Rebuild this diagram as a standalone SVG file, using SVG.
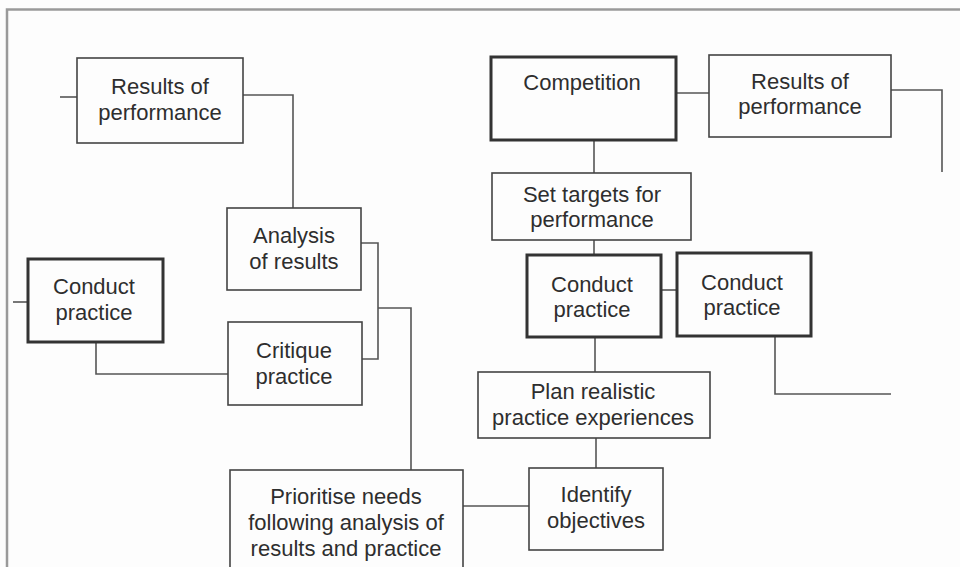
<svg xmlns="http://www.w3.org/2000/svg" width="960" height="567" viewBox="0 0 960 567">
  <style>
    .box { fill: #fdfdfd; stroke: #444; stroke-width: 1.6; }
    .bold { stroke: #333; stroke-width: 3; }
    .wire { fill: none; stroke: #555; stroke-width: 1.6; }
    text { font-family: "Liberation Sans", Arial, sans-serif; font-size: 22px; fill: #2e2e2e; text-anchor: middle; }
  </style>
  <rect x="0" y="0" width="960" height="567" fill="#fdfdfd"/>
  <!-- page frame -->
  <path d="M7 567 V9.5 H960" fill="none" stroke="#9a9a9a" stroke-width="2.5"/>

  <g id="connectors">
    <path class="wire" d="M60 97 H77"/>
    <path class="wire" d="M243 95 H293 V208"/>
    <path class="wire" d="M361 243 H378 V359 H362"/>
    <path class="wire" d="M378 308 H411 V470"/>
    <path class="wire" d="M13 302 H28"/>
    <path class="wire" d="M96 342 V374 H228"/>
    <path class="wire" d="M463 506 H529"/>
    <path class="wire" d="M676 93 H709"/>
    <path class="wire" d="M891 90 H942 V172"/>
    <path class="wire" d="M594 140 V173"/>
    <path class="wire" d="M594 240 V255"/>
    <path class="wire" d="M661 290 H677"/>
    <path class="wire" d="M775 336 V394 H891"/>
    <path class="wire" d="M595 337 V372"/>
    <path class="wire" d="M596 438 V468"/>
  </g>

  <g id="results-left">
    <rect class="box" x="77" y="58" width="166" height="85"/>
    <text x="160" y="94">Results of</text>
    <text x="160" y="120">performance</text>
  </g>
  <g id="analysis">
    <rect class="box" x="227" y="208" width="134" height="82"/>
    <text x="294" y="243">Analysis</text>
    <text x="294" y="269">of results</text>
  </g>
  <g id="conduct-left">
    <rect class="box bold" x="28" y="259" width="135" height="83"/>
    <text x="94" y="294">Conduct</text>
    <text x="94" y="320">practice</text>
  </g>
  <g id="critique">
    <rect class="box" x="228" y="322" width="134" height="83"/>
    <text x="294" y="358">Critique</text>
    <text x="294" y="384">practice</text>
  </g>
  <g id="prioritise">
    <rect class="box" x="230" y="470" width="233" height="110"/>
    <text x="346" y="504">Prioritise needs</text>
    <text x="346" y="530">following analysis of</text>
    <text x="346" y="556">results and practice</text>
  </g>
  <g id="competition">
    <rect class="box bold" x="491" y="57" width="185" height="83"/>
    <text x="582" y="90">Competition</text>
  </g>
  <g id="results-right">
    <rect class="box" x="709" y="55" width="182" height="82"/>
    <text x="800" y="89">Results of</text>
    <text x="800" y="114">performance</text>
  </g>
  <g id="set-targets">
    <rect class="box" x="492" y="173" width="199" height="67"/>
    <text x="592" y="202">Set targets for</text>
    <text x="592" y="227">performance</text>
  </g>
  <g id="conduct-middle">
    <rect class="box bold" x="527" y="255" width="134" height="82"/>
    <text x="592" y="292">Conduct</text>
    <text x="592" y="317">practice</text>
  </g>
  <g id="conduct-right">
    <rect class="box bold" x="677" y="253" width="134" height="83"/>
    <text x="742" y="290">Conduct</text>
    <text x="742" y="315">practice</text>
  </g>
  <g id="plan">
    <rect class="box" x="478" y="372" width="232" height="66"/>
    <text x="593" y="399">Plan realistic</text>
    <text x="593" y="425">practice experiences</text>
  </g>
  <g id="identify">
    <rect class="box" x="529" y="468" width="134" height="82"/>
    <text x="596" y="502">Identify</text>
    <text x="596" y="528">objectives</text>
  </g>
</svg>
